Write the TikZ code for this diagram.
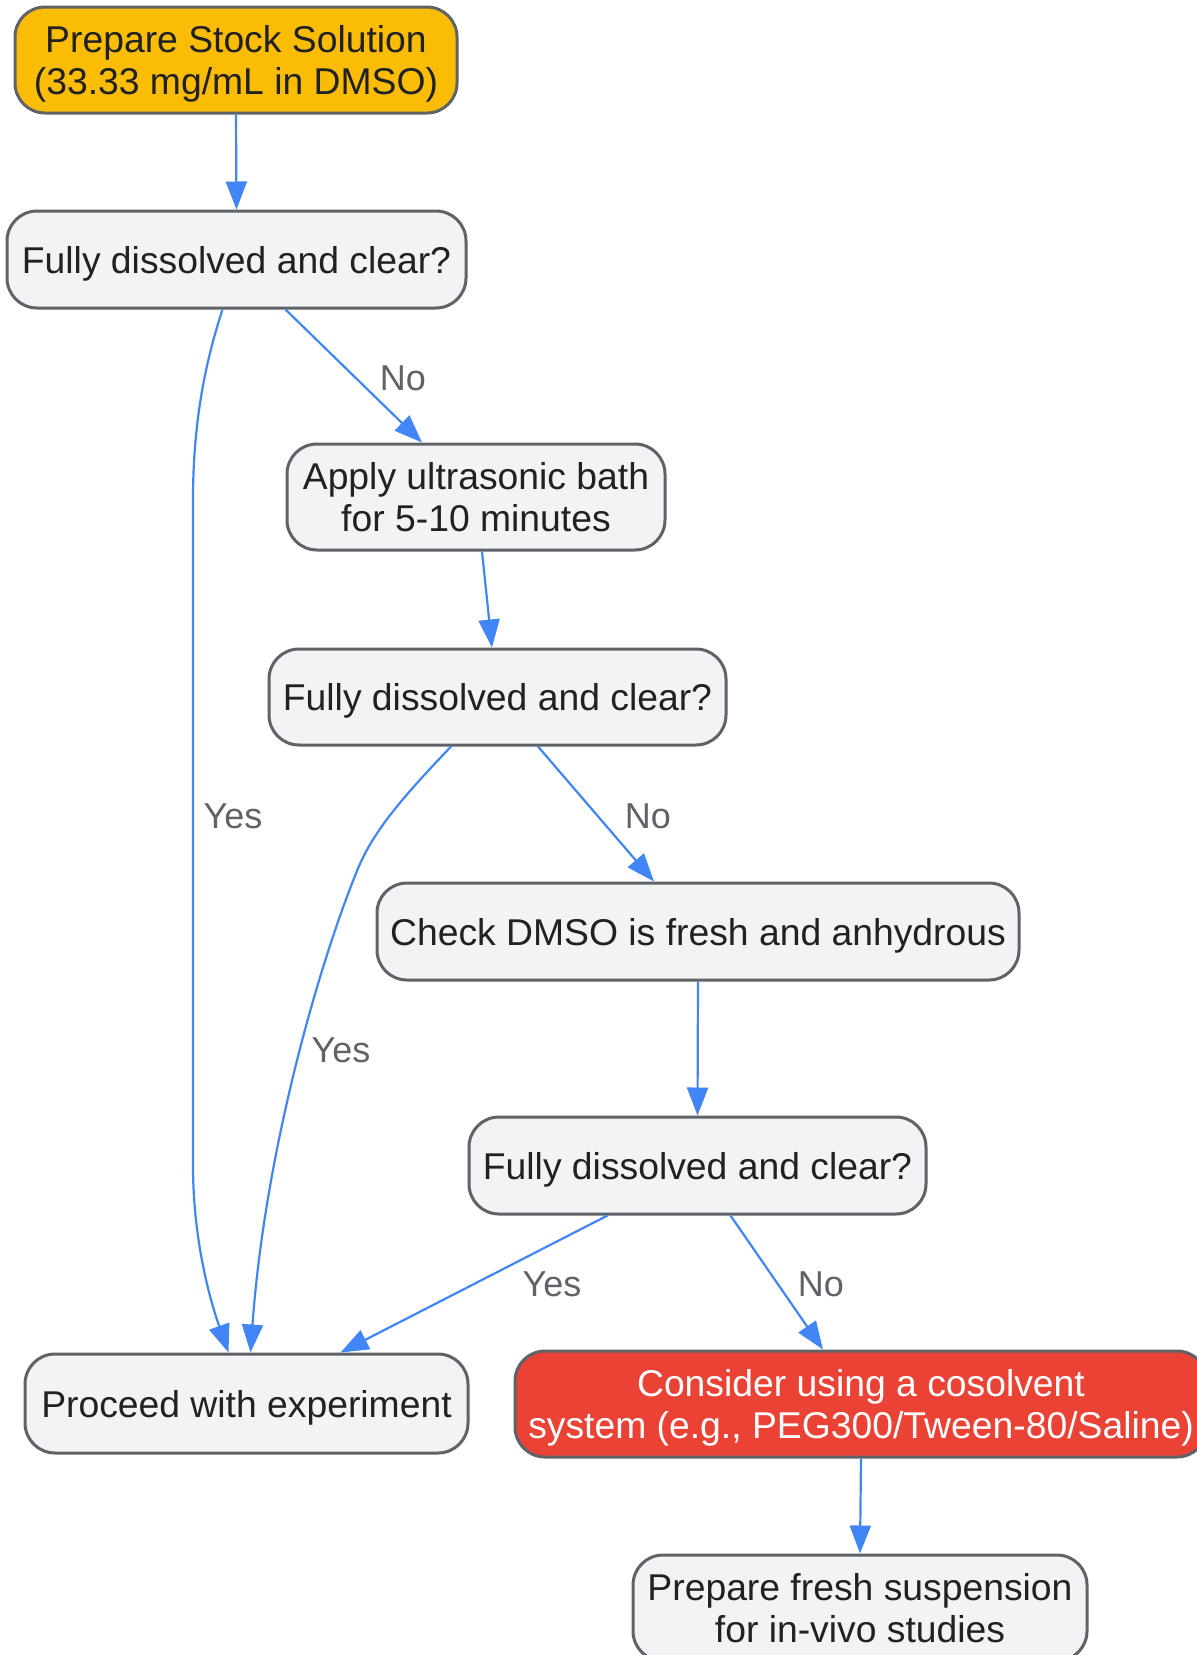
\documentclass[tikz,border=0pt]{standalone}
\usepackage{fontspec}
\setmainfont{Liberation Sans}
\usetikzlibrary{arrows.meta,calc}
\definecolor{gfill}{HTML}{F1F3F4}
\definecolor{gborder}{HTML}{5F6368}
\definecolor{gtext}{HTML}{202124}
\definecolor{garrow}{HTML}{4285F4}
\definecolor{gyellow}{HTML}{FBBC05}
\definecolor{gred}{HTML}{EA4335}
\begin{document}
\begin{tikzpicture}[x=1pt,y=-1pt,
  box/.style={draw=gborder, line width=3pt, fill=gfill, rounded corners=30pt,
    inner sep=0pt, align=center, text=gtext, text depth=0pt, font=\fontsize{37.3}{42.5}\selectfont},
  edge/.style={draw=garrow, line width=2.2pt, -{Triangle[length=28pt,width=21pt]}},
  lbl/.style={text=gborder, font=\fontsize{36}{40}\selectfont, inner sep=0pt}]
\useasboundingbox (0,0) rectangle (1197,1655);

\node[box, fill=gyellow, minimum width=442pt, minimum height=106pt] (start) at (236,60)
  {Prepare Stock Solution\\(33.33 mg/mL in DMSO)};
\node[box, minimum width=459pt, minimum height=97pt] (q1) at (236.5,259.5)
  {Fully dissolved and clear?};
\node[box, minimum width=378pt, minimum height=106pt] (us) at (476,497)
  {Apply ultrasonic bath\\for 5-10 minutes};
\node[box, minimum width=457pt, minimum height=96pt] (q2) at (497.5,697)
  {Fully dissolved and clear?};
\node[box, minimum width=642pt, minimum height=97pt] (check) at (698,931.5)
  {Check DMSO is fresh and anhydrous};
\node[box, minimum width=457pt, minimum height=97pt] (q3) at (697.5,1165.5)
  {Fully dissolved and clear?};
\node[box, minimum width=443pt, minimum height=99pt] (proceed) at (246.5,1403.5)
  {Proceed with experiment};
\node[box, fill=gred, text=white, minimum width=692pt, minimum height=106pt] (red) at (861,1404)
  {Consider using a cosolvent\\system (e.g., PEG300/Tween-80/Saline)};
\node[box, minimum width=454pt, minimum height=106pt] (final) at (860,1608)
  {Prepare fresh suspension\\for in-vivo studies};

% edges
\draw[edge] (start.south) -- (q1.north);
\draw[edge] ([xshift=49pt]q1.south) -- ([xshift=-54pt]us.north);
\draw[edge] ([xshift=-14pt]q1.south) .. controls (206,360) and (193,420) .. (193,500)
  -- (193,1165) .. controls (193,1240) and (210,1300) .. ([xshift=-18pt]proceed.north);
\draw[edge] ([xshift=6pt]us.south) -- ([xshift=-5.5pt]q2.north);
\draw[edge] ([xshift=40.5pt]q2.south) -- ([xshift=-44pt]check.north);
\draw[edge] ([xshift=-46.5pt]q2.south) .. controls (400,800) and (375,830) .. (359,866)
  .. controls (320,960) and (265,1150) .. ([xshift=4pt]proceed.north);
\draw[edge] (check.south) -- (q3.north);
\draw[edge] ([xshift=-90pt]q3.south) -- ([xshift=94pt]proceed.north);
\draw[edge] ([xshift=33pt]q3.south) -- ([xshift=-38pt]red.north);
\draw[edge] (red.south) -- (final.north);

% labels
\node[lbl] (l1) at (403,378) {No};
\node[lbl] (l2) at (233,816) {Yes};
\node[lbl] (l3) at (648,816) {No};
\node[lbl] (l4) at (341,1050) {Yes};
\node[lbl] (l5) at (552,1284) {Yes};
\node[lbl] (l6) at (821,1284) {No};
\end{tikzpicture}
\end{document}
